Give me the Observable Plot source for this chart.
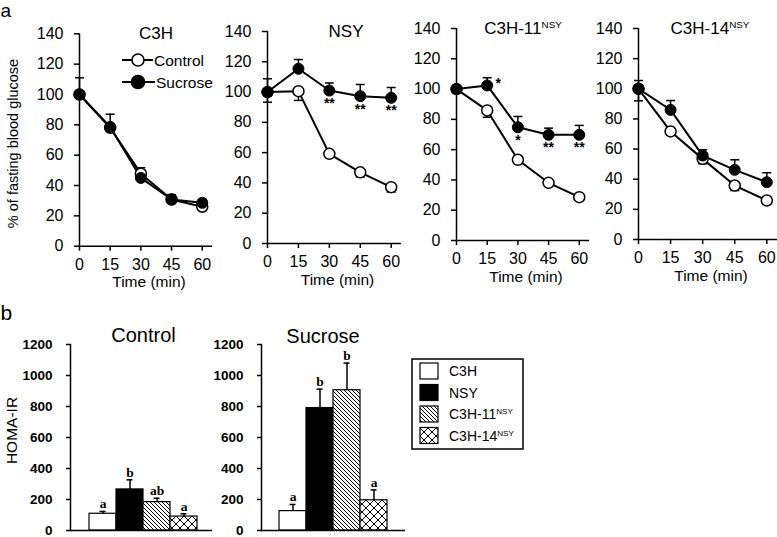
<!DOCTYPE html>
<html><head><meta charset="utf-8">
<script src="https://cdn.jsdelivr.net/npm/d3@7"></script>
<script src="https://cdn.jsdelivr.net/npm/@observablehq/plot@0.6"></script>
<style>
body{margin:0;background:#fff;}
#fig{position:relative;width:777px;height:537px;overflow:hidden;background:#fff;font-family:"Liberation Sans",Arial,sans-serif;}
#fig svg{position:absolute;}
</style></head><body>
<svg width="0" height="0" style="position:absolute;left:0;top:0"><defs>
<pattern id="hatch11" patternUnits="userSpaceOnUse" width="4" height="4"><rect width="4" height="4" fill="white"/><path d="M-1,-1L5,5M-1,3L1,5M3,-1L5,1" stroke="black" stroke-width="1"/></pattern>
<pattern id="hatch14" patternUnits="userSpaceOnUse" width="8" height="8"><rect width="8" height="8" fill="white"/><path d="M0,0L8,8M8,0L0,8" stroke="black" stroke-width="1"/></pattern>
</defs></svg>
<div id="fig"></div>
<script>
// ---------- data ----------
const time = [0, 15, 30, 45, 60];
const yTicks = [0, 20, 40, 60, 80, 100, 120, 140];
const seriesNames = ["Control", "Sucrose"];
const strainNames = ["C3H", "NSY", "C3H-11", "C3H-14"];
const strainSup = ["", "", "NSY", "NSY"];

const c3hControl = [100, 78, 47.8, 30.8, 26];
const c3hControlErr = [null, null, 51.7, null, null];
const c3hSucrose = [100, 78.6, 45, 30.8, 28.6];
const c3hSucroseErr = [111, 87, null, 34, 30.8];

const nsyControl = [100, 100.6, 59.2, 47, 37.2];
const nsyControlErr = [93.3, 94.5, 57, 44, 34];
const nsySucrose = [100, 115.4, 101, 97.3, 96.2];
const nsySucroseErr = [108.8, 121.5, 106, 105, 103];
const nsySig = ["", "", "**", "**", "**"];

const c11Control = [100, 85.9, 53.3, 38.1, 28.6];
const c11ControlErr = [null, 81.4, null, null, null];
const c11Sucrose = [100, 102.4, 74.8, 69.8, 69.8];
const c11SucroseErr = [null, 107.5, 81.9, 74.2, 76];
const c11Sig = ["", "", "*", "**", "**"];
const c11SigSide = ["", "*", "", "", ""];

const c14Control = [100, 71.7, 53.5, 35.8, 25.9];
const c14ControlErr = [92, null, 50.2, 32.5, 23.5];
const c14Sucrose = [100, 86, 55.7, 46.2, 38];
const c14SucroseErr = [105.5, 92.2, 59.5, 52.9, 44.3];

const homaTicks = [0, 200, 400, 600, 800, 1000, 1200];
const homaControl = [108, 265, 183, 90];
const homaControlErr = [15, 62, 25, 18];
const homaControlLetter = ["a", "b", "ab", "a"];
const homaSucrose = [125, 790, 905, 195];
const homaSucroseErr = [43, 122, 175, 67];
const homaSucroseLetter = ["a", "b", "b", "a"];

// ---------- styles ----------
const groupFills = ["white", "black", "url(#hatch11)", "url(#hatch14)"];
const FONT = "Liberation Sans, Arial, sans-serif";
const fig = document.getElementById("fig");
const cap = {draw(ctx, size) { const r = Math.sqrt(size / Math.PI); ctx.moveTo(-r, 0); ctx.lineTo(r, 0); }};

function place(svg, left, top) {
  svg.style.position = "absolute";
  svg.style.left = left + "px";
  svg.style.top = top + "px";
  fig.appendChild(svg);
}

function linePanel(o) {
  const rows = time.map((t, i) => ({
    t, c: o.control[i], ce: o.controlErr[i], s: o.sucrose[i], se: o.sucroseErr[i],
    sig: (o.sig || [])[i] || "", side: (o.side || [])[i] || ""
  }));
  const ce = rows.filter(d => d.ce != null), se = rows.filter(d => d.se != null);
  const marks = [
    Plot.line(rows, {x: "t", y: "c", stroke: "black", strokeWidth: 2}),
    Plot.line(rows, {x: "t", y: "s", stroke: "black", strokeWidth: 2}),
    Plot.ruleX(ce, {x: "t", y1: "c", y2: "ce", strokeWidth: 1.5}),
    Plot.dot(ce, {x: "t", y: "ce", symbol: cap, r: 4.5, fill: "none", stroke: "black", strokeWidth: 1.5}),
    Plot.ruleX(se, {x: "t", y1: "s", y2: "se", strokeWidth: 1.5}),
    Plot.dot(se, {x: "t", y: "se", symbol: cap, r: 4.5, fill: "none", stroke: "black", strokeWidth: 1.5}),
    Plot.ruleY([0], {strokeWidth: 1.5}),
    Plot.ruleX([0], {strokeWidth: 1.5}),
    Plot.axisX({ticks: time, tickSize: 5, tickPadding: 7, strokeWidth: 1.5}),
    Plot.axisY({ticks: yTicks, tickSize: 5, tickPadding: 11, strokeWidth: 1.5}),
    Plot.text(["Time (min)"], {frameAnchor: "bottom", dy: 41, dx: 3, fontSize: 15.5}),
    Plot.dot(rows, {x: "t", y: "c", r: 5.5, fill: "white", stroke: "black", strokeWidth: 1.5}),
    Plot.dot(rows, {x: "t", y: "s", r: 5.5, fill: "black", stroke: "black", strokeWidth: 1}),
    Plot.text(rows.filter(d => d.sig), {x: "t", y: "s", text: "sig", dy: 13, fontSize: 14, fontWeight: "bold"}),
    Plot.text(rows.filter(d => d.side), {x: "t", y: "s", text: "side", dx: 11, dy: -2, fontSize: 14, fontWeight: "bold"})
  ];
  if (o.yLabel) marks.push(Plot.text([o.yLabel], {frameAnchor: "left", textAnchor: "middle", rotate: -90, dx: 12.5 - o.ml, dy: 3.5, fontSize: 14.5}));
  const svg = Plot.plot({
    width: o.w, height: 290,
    marginLeft: o.ml, marginRight: o.mr, marginTop: o.mt, marginBottom: 290 - o.yb,
    x: {domain: [0, 65], label: null},
    y: {domain: [0, 140], label: null},
    style: {fontFamily: FONT, fontSize: "16px", color: "black", background: "transparent", overflow: "visible"},
    marks
  });
  place(svg, o.left, 0);
}

linePanel({left: 0, w: 220, ml: 79, mr: 8, mt: 33.3, yb: 245.7,
  control: c3hControl, controlErr: c3hControlErr, sucrose: c3hSucrose, sucroseErr: c3hSucroseErr,
  yLabel: "% of fasting blood glucose"});
linePanel({left: 190, w: 217, ml: 77, mr: 6, mt: 31, yb: 243,
  control: nsyControl, controlErr: nsyControlErr, sucrose: nsySucrose, sucroseErr: nsySucroseErr, sig: nsySig});
linePanel({left: 380, w: 215, ml: 76, mr: 6, mt: 28, yb: 240,
  control: c11Control, controlErr: c11ControlErr, sucrose: c11Sucrose, sucroseErr: c11SucroseErr, sig: c11Sig, side: c11SigSide});
linePanel({left: 560, w: 217, ml: 78, mr: 0, mt: 28, yb: 239,
  control: c14Control, controlErr: c14ControlErr, sucrose: c14Sucrose, sucroseErr: c14SucroseErr});

function barPanel(o) {
  const rows = strainNames.map((g, i) => ({g, v: o.values[i], top: o.values[i] + o.err[i], letter: o.letters[i]}));
  const marks = [
    Plot.barY(rows, {x: "g", y: "v", fill: "g", stroke: "black", strokeWidth: 1.2}),
    Plot.ruleX(rows, {x: "g", y1: "v", y2: "top", strokeWidth: 1.5}),
    Plot.tickY(rows, {x: "g", y: "top", inset: 10.5, strokeWidth: 1.5}),
    Plot.text(rows, {x: "g", y: "top", text: "letter", lineAnchor: "bottom", dy: -3, fontFamily: "Liberation Serif, Times New Roman, serif", fontSize: 13.5, fontWeight: "bold"}),
    Plot.ruleY([0], {strokeWidth: 1.5}),
    Plot.frame({anchor: "left", strokeWidth: 1.5}),
    Plot.axisY({ticks: homaTicks, tickFormat: d => String(d), tickSize: 4, tickPadding: 14, strokeWidth: 1.5, fontWeight: "bold"})
  ];
  if (o.yLabel) marks.push(Plot.text([o.yLabel], {frameAnchor: "left", textAnchor: "middle", rotate: -90, dx: 12 - o.ml, dy: -7, fontSize: 15.5}));
  const svg = Plot.plot({
    width: o.w, height: 237,
    marginLeft: o.ml, marginRight: o.mr, marginTop: 44, marginBottom: 7,
    x: {type: "band", domain: strainNames, range: o.xr, padding: 0, axis: null},
    y: {domain: [0, 1200], label: null},
    color: {domain: strainNames, range: groupFills},
    style: {fontFamily: FONT, fontSize: "13.5px", color: "black", background: "transparent", overflow: "visible"},
    marks
  });
  place(svg, o.left, 300);
}

barPanel({left: 0, w: 216, ml: 70, mr: 4, xr: [88, 198], values: homaControl, err: homaControlErr, letters: homaControlLetter, yLabel: "HOMA-IR"});
barPanel({left: 190, w: 219, ml: 71, mr: 4, xr: [87, 198], values: homaSucrose, err: homaSucroseErr, letters: homaSucroseLetter});

// ---------- titles, panel letters and legends ----------
const ov = d3.select(fig).append("svg")
  .attr("width", 777).attr("height", 537)
  .style("left", "0px").style("top", "0px")
  .attr("font-family", FONT).style("pointer-events", "none");

ov.append("text").attr("x", 0.5).attr("y", 17).attr("font-size", 19).text("a");
ov.append("text").attr("x", 0.5).attr("y", 320).attr("font-size", 21).text("b");

function supText(sel, x, y, size, main, sup, anchor) {
  const t = sel.append("text").attr("x", x).attr("y", y).attr("font-size", size).attr("text-anchor", anchor);
  t.append("tspan").text(main);
  if (sup) t.append("tspan").attr("font-size", size * 0.58).attr("dy", -size * 0.33).text(sup);
  return t;
}
const titlePos = [[156, 38.5], [346, 37], [523, 34], [710, 34]];
strainNames.forEach((s, i) => supText(ov, titlePos[i][0], titlePos[i][1], 17, s, strainSup[i], "middle"));

ov.append("text").attr("x", 143.5).attr("y", 342).attr("font-size", 20).attr("text-anchor", "middle").text(seriesNames[0]);
ov.append("text").attr("x", 323).attr("y", 343).attr("font-size", 20).attr("text-anchor", "middle").text(seriesNames[1]);

// legend a
const legA = [{y: 60, fill: "white", r: 6, x2: 153}, {y: 82, fill: "black", r: 6.5, x2: 155}];
legA.forEach((d, i) => {
  ov.append("line").attr("x1", 122).attr("x2", d.x2).attr("y1", d.y).attr("y2", d.y).attr("stroke", "black").attr("stroke-width", 2);
  ov.append("circle").attr("cx", 138).attr("cy", d.y).attr("r", d.r).attr("fill", d.fill).attr("stroke", "black").attr("stroke-width", 1.6);
  ov.append("text").attr("x", d.x2 + 1).attr("y", d.y + 5.5).attr("font-size", 15.5).text(seriesNames[i]);
});

// legend b
ov.append("rect").attr("x", 412).attr("y", 359).attr("width", 111).attr("height", 90)
  .attr("fill", "white").attr("stroke", "black").attr("stroke-width", 1.5);
strainNames.forEach((s, i) => {
  const yc = 371 + 21.5 * i;
  ov.append("rect").attr("x", 420).attr("y", yc - 8).attr("width", 18).attr("height", 16)
    .attr("fill", groupFills[i]).attr("stroke", "black").attr("stroke-width", 1.2);
  supText(ov, 449, yc + 5, 14, s, strainSup[i], "start");
});
</script>
</body></html>
